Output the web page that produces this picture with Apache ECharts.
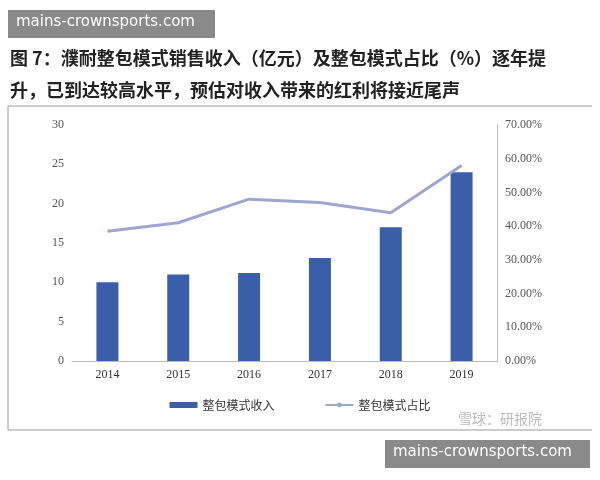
<!DOCTYPE html><html><head><meta charset="utf-8">
<script src="https://cdn.jsdelivr.net/npm/echarts@6/dist/echarts.min.js"></script>
<style>body{margin:0;background:#fff}#c{width:600px;height:480px}</style></head><body><div id="c"></div>
<script>
const years=['2014','2015','2016','2017','2018','2019'];
const revenue=[10,11,11.2,13.1,17,24];
const share=[38.5,41,48,47,44,58];
const ch=echarts.init(document.getElementById('c'));
const f='"Noto Sans CJK SC", serif';
ch.setOption({
 animation:false,
 graphic:[
  {type:'rect',shape:{x:8,y:10,width:207,height:28},style:{fill:'#8a8a8a'}},
  {type:'text',left:16,top:15,style:{text:'mains-crownsports.com',fill:'#fff',font:'15px "DejaVu Sans"'}},
  {type:'text',left:10,top:42,style:{text:'图 7：濮耐整包模式销售收入（亿元）及整包模式占比（%）逐年提\n升，已到达较高水平，预估对收入带来的红利将接近尾声',fill:'#222',font:'bold 18px '+f,lineHeight:32}},
  {type:'line',shape:{x1:8,y1:106,x2:592,y2:106},style:{stroke:'#999',lineWidth:1}},
  {type:'line',shape:{x1:8,y1:106,x2:8,y2:430},style:{stroke:'#999',lineWidth:1}},
  {type:'line',shape:{x1:8,y1:430,x2:592,y2:430},style:{stroke:'#999',lineWidth:1}},
  {type:'text',left:458,top:412,style:{text:'雪球：研报院',fill:'#bbb',font:'14px '+f}},
  {type:'rect',shape:{x:385,y:440,width:205,height:28},style:{fill:'#8a8a8a'}},
  {type:'text',left:393,top:445,style:{text:'mains-crownsports.com',fill:'#fff',font:'15px "DejaVu Sans"'}}
 ],
 legend:{bottom:64,left:'center',itemGap:50,textStyle:{fontFamily:f,fontSize:12,color:'#333'},
  data:[{name:'整包模式收入',icon:'rect'},{name:'整包模式占比'}],itemWidth:28,itemHeight:6},
 grid:{left:72,right:103,top:125,height:236},
 xAxis:{type:'category',data:years,axisTick:{show:false},axisLine:{lineStyle:{color:'#bbb'}},
  axisLabel:{color:'#333',fontFamily:'serif',fontSize:12}},
 yAxis:[
  {type:'value',min:0,max:30,interval:5,splitLine:{show:false},axisLine:{show:false},axisTick:{show:false},
   axisLabel:{color:'#555',fontFamily:'serif',fontSize:12}},
  {type:'value',min:0,max:70,interval:10,splitLine:{show:false},axisLine:{show:true,lineStyle:{color:'#bbb'}},axisTick:{show:false},
   axisLabel:{color:'#555',fontFamily:'serif',fontSize:12,formatter:v=>v.toFixed(2)+'%'}}
 ],
 series:[
  {name:'整包模式收入',type:'bar',data:revenue,barWidth:22,itemStyle:{color:'#3b5ea8'}},
  {name:'整包模式占比',type:'line',yAxisIndex:1,data:share,symbol:'none',lineStyle:{color:'#9ea6cf',width:3},itemStyle:{color:'#9ea6cf'}}
 ]
});
</script></body></html>
